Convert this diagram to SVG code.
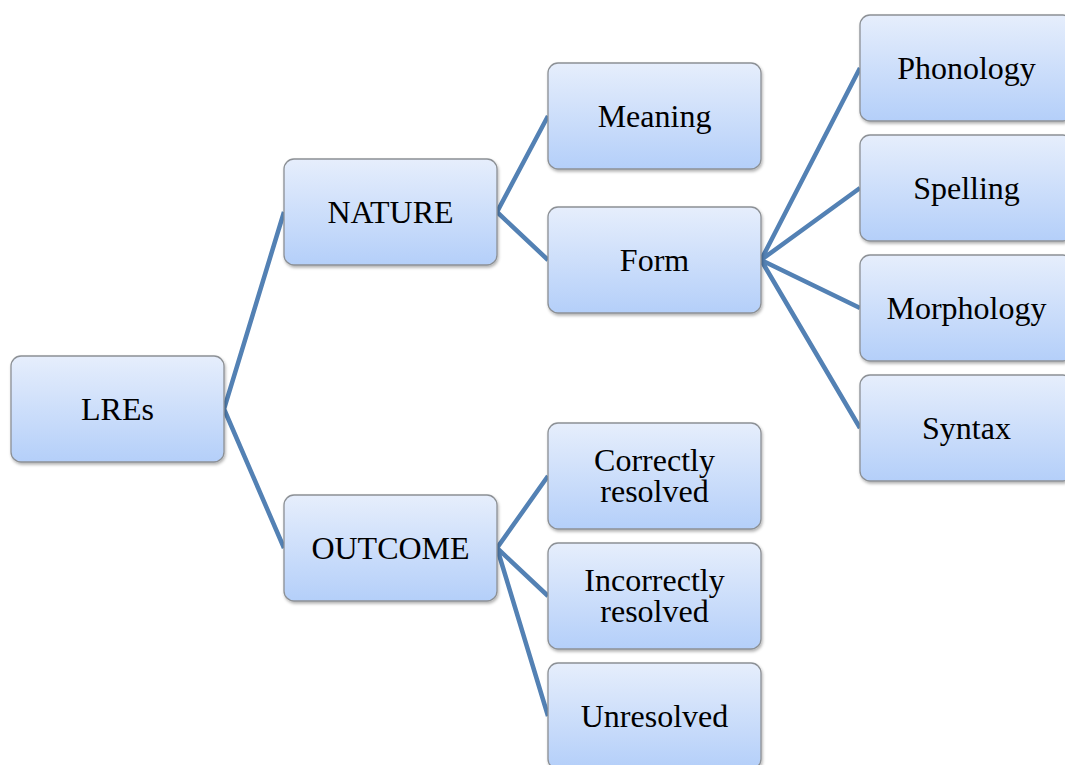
<svg xmlns="http://www.w3.org/2000/svg" width="1065" height="765" viewBox="0 0 1065 765">
<defs>
<linearGradient id="g" x1="0" y1="0" x2="0" y2="1">
<stop offset="0" stop-color="#e6eefc"/>
<stop offset="1" stop-color="#b4cff9"/>
</linearGradient>
<filter id="sh" x="-10%" y="-10%" width="130%" height="130%">
<feDropShadow dx="1" dy="2" stdDeviation="1.5" flood-color="#000" flood-opacity="0.3"/>
</filter>
</defs>
<style>
.n rect{fill:url(#g);stroke:#8c9095;stroke-width:1.3;filter:url(#sh)}
.n text{font-family:"Liberation Serif","Times New Roman",serif;font-size:32px;fill:#000;text-anchor:middle;dominant-baseline:central}
.c path{fill:none;stroke:#5381b4;stroke-width:4.5;stroke-linejoin:miter}
</style>
<rect width="1065" height="765" fill="#fff"/>
<g class="c" id="connectors">
<path d="M284,212 L224,409 L284,548"/>
<path d="M548,116 L497,212 L548,260"/>
<path d="M860,68 L761,260 L860,188 M761,260 L860,308 M761,260 L860,428"/>
<path d="M548,476 L497,548 L548,596 M497,548 L548,716"/>
</g>
<g class="n" id="n-lres"><rect x="11" y="356" width="213" height="106" rx="10"/><text x="117.5" y="409">LREs</text></g>
<g class="n" id="n-nature"><rect x="284" y="159" width="213" height="106" rx="10"/><text x="390.5" y="212">NATURE</text></g>
<g class="n" id="n-outcome"><rect x="284" y="495" width="213" height="106" rx="10"/><text x="390.5" y="548">OUTCOME</text></g>
<g class="n" id="n-meaning"><rect x="548" y="63" width="213" height="106" rx="10"/><text x="654.5" y="116">Meaning</text></g>
<g class="n" id="n-form"><rect x="548" y="207" width="213" height="106" rx="10"/><text x="654.5" y="260">Form</text></g>
<g class="n" id="n-correct"><rect x="548" y="423" width="213" height="106" rx="10"/><text x="654.5" y="460">Correctly</text><text x="654.5" y="491">resolved</text></g>
<g class="n" id="n-incorrect"><rect x="548" y="543" width="213" height="106" rx="10"/><text x="654.5" y="580">Incorrectly</text><text x="654.5" y="611">resolved</text></g>
<g class="n" id="n-unresolved"><rect x="548" y="663" width="213" height="106" rx="10"/><text x="654.5" y="716">Unresolved</text></g>
<g class="n" id="n-phonology"><rect x="860" y="15" width="213" height="106" rx="10"/><text x="966.5" y="68">Phonology</text></g>
<g class="n" id="n-spelling"><rect x="860" y="135" width="213" height="106" rx="10"/><text x="966.5" y="188">Spelling</text></g>
<g class="n" id="n-morphology"><rect x="860" y="255" width="213" height="106" rx="10"/><text x="966.5" y="308">Morphology</text></g>
<g class="n" id="n-syntax"><rect x="860" y="375" width="213" height="106" rx="10"/><text x="966.5" y="428">Syntax</text></g>
</svg>
